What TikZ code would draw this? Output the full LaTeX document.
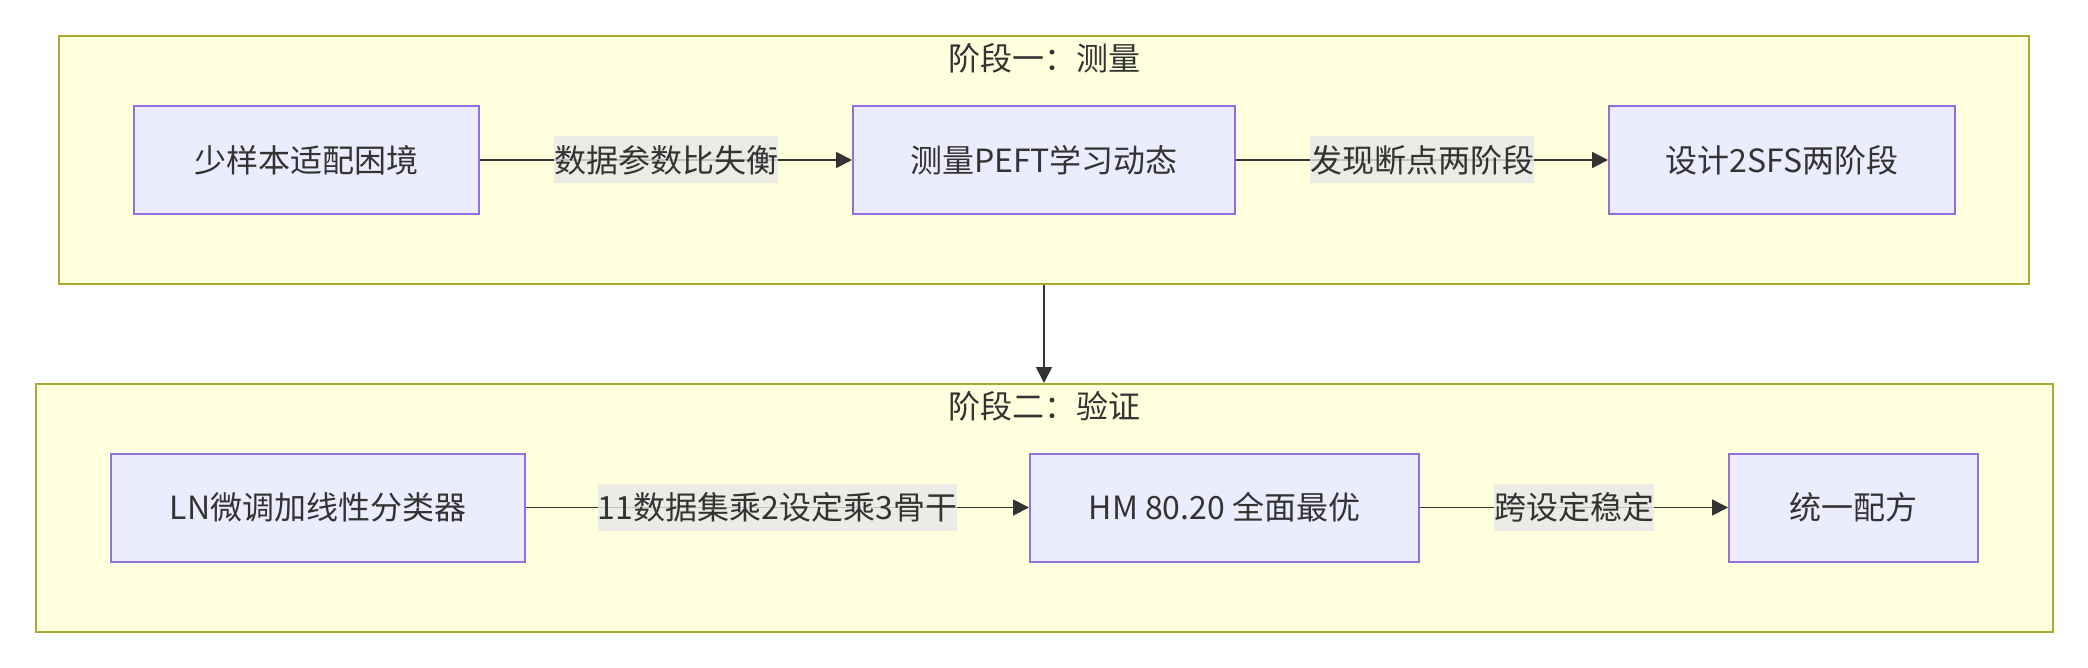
\documentclass[tikz,border=0pt]{standalone}
\usepackage{fontspec}
\setmainfont{Noto Sans CJK SC}
\usetikzlibrary{arrows.meta}
\definecolor{clfill}{HTML}{FFFFDE}
\definecolor{cldraw}{HTML}{AAAA33}
\definecolor{ndfill}{HTML}{ECECFF}
\definecolor{nddraw}{HTML}{9370DB}
\definecolor{txt}{HTML}{333333}
\definecolor{lblbg}{HTML}{E8E8E8}
\tikzset{
  cluster/.style={draw=cldraw, fill=clfill, line width=1pt, inner sep=0pt},
  stepbox/.style={draw=nddraw, fill=ndfill, line width=1pt, inner sep=0pt, text=txt,
    minimum height=54pt, font=\fontsize{16pt}{20pt}\selectfont},
  ttl/.style={text=txt, inner sep=0pt, font=\fontsize{16pt}{20pt}\selectfont},
  elab/.style={fill=lblbg, fill opacity=0.8, text opacity=1, text=txt, inner xsep=0pt, inner ysep=0pt,
    minimum height=23.5pt, font=\fontsize{16pt}{20pt}\selectfont},
  arr/.style={draw=txt, line width=0.9pt, -{Triangle[length=8pt,width=8pt]}},
}
\begin{document}
\begin{tikzpicture}[x=0.5pt,y=-0.5pt]
\useasboundingbox (0,0) rectangle (2088,668);
% clusters
\node[cluster, minimum width=985pt, minimum height=124pt] (c1) at (1044,160) {};
\node[cluster, minimum width=1008.5pt, minimum height=124pt] (c2) at (1044,508) {};
\node[ttl] (t1) at (1044,58) {阶段一：测量};
\node[ttl] (t2) at (1044,406) {阶段二：验证};
% stage 1 nodes
\node[stepbox, minimum width=172.5pt] (n1) at (306.5,160) {少样本适配困境};
\node[stepbox, minimum width=191pt] (n2) at (1044,160) {测量PEFT学习动态};
\node[stepbox, minimum width=173pt] (n3) at (1782,160) {设计2SFS两阶段};
% stage 2 nodes
\node[stepbox, minimum width=207pt] (n4) at (318,507.5) {LN微调加线性分类器};
\node[stepbox, minimum width=194.5pt] (n5) at (1224.5,507.5) {HM 80.20 全面最优};
\node[stepbox, minimum width=124.5pt] (n6) at (1853.5,507.5) {统一配方};
% connectors
\draw[arr] (n1) -- node[elab] {数据参数比失衡} (n2);
\draw[arr] (n2) -- node[elab] {发现断点两阶段} (n3);
\draw[arr] (n4) -- node[elab] {11数据集乘2设定乘3骨干} (n5);
\draw[arr] (n5) -- node[elab] {跨设定稳定} (n6);
\draw[arr] (c1.south) -- (c2.north);
\end{tikzpicture}
\end{document}
